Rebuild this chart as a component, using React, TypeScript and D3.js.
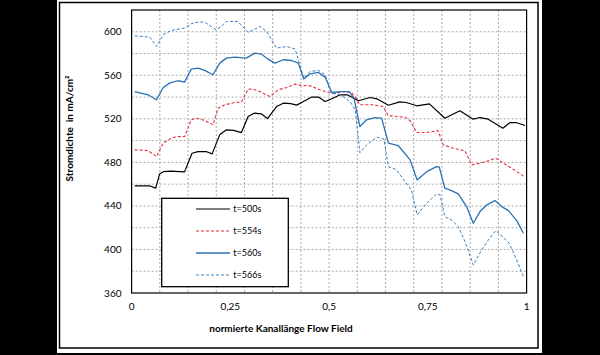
import React from "react";
import * as d3 from "d3";

const xs500 = [0.008,0.045,0.061,0.071,0.08,0.1,0.134,0.153,0.168,0.19,0.204,0.223,0.24,0.258,0.278,0.295,0.31,0.328,0.344,0.367,0.384,0.403,0.418,0.435,0.456,0.473,0.49,0.507,0.528,0.546,0.574,0.604,0.621,0.65,0.679,0.695,0.722,0.754,0.793,0.831,0.865,0.882,0.903,0.94,0.958,0.973,0.996];
const ys500 = [458.5,458.5,456.4,469.4,471.5,471.9,471.3,488.4,489.9,489.8,487.8,505.3,509.9,509.4,507.4,522.1,525.2,524.6,520.3,531.3,534.4,534,532.6,535.9,540,540,535.9,538.4,542.1,542.1,536.6,539.6,538.4,532.5,535.6,535,532,533.8,520.6,527.4,519.7,521.2,519.7,511.4,516.6,516.6,513.9];

const xs554 = [0.008,0.042,0.063,0.08,0.1,0.117,0.134,0.151,0.164,0.185,0.206,0.219,0.236,0.26,0.278,0.295,0.31,0.325,0.35,0.371,0.393,0.414,0.431,0.452,0.477,0.498,0.51,0.536,0.557,0.571,0.578,0.612,0.637,0.65,0.692,0.705,0.722,0.747,0.776,0.789,0.814,0.844,0.861,0.882,0.903,0.922,0.941,0.962,0.996];
const ys554 = [491.5,490.9,485.3,497.6,502.2,503.7,503.7,519.1,520.6,518.5,514.5,529.8,532.9,535,535.4,547.3,547,545,540.5,546.7,548.8,551.9,550.6,550.3,546.7,544.2,543,545.1,544.2,537.5,532.9,532.9,531.3,522.8,521.6,518.4,507.4,507.4,509.2,496.1,493,490.6,477.7,479.3,481.4,483.9,479.3,474.7,466.4];

const xs560 = [0.008,0.042,0.063,0.08,0.096,0.117,0.134,0.151,0.168,0.185,0.206,0.223,0.24,0.261,0.29,0.312,0.328,0.345,0.363,0.384,0.405,0.422,0.436,0.452,0.473,0.49,0.507,0.528,0.551,0.563,0.578,0.595,0.616,0.633,0.65,0.675,0.705,0.723,0.747,0.772,0.779,0.793,0.81,0.827,0.848,0.865,0.882,0.899,0.92,0.937,0.954,0.975,0.992];
const ys560 = [545.1,542.1,537.5,548.8,552.8,555,553.7,565.7,566.6,564.5,560.5,571.2,575.8,576.7,575.8,580.4,579.5,574.9,571.2,574.3,573.6,571.2,556.5,561.4,562.6,558.3,544.2,545.1,545.1,539,512.9,519.1,521.2,520.6,497.7,495.5,482.3,463.9,471.5,476.1,475.6,456.3,454.1,451,439.4,424.1,434.8,440.9,444.9,439.4,435.7,426.5,414.9];

const xs566 = [0.008,0.046,0.063,0.08,0.1,0.134,0.151,0.168,0.185,0.214,0.227,0.24,0.269,0.295,0.325,0.342,0.367,0.393,0.414,0.436,0.452,0.473,0.49,0.504,0.528,0.553,0.566,0.578,0.595,0.621,0.639,0.65,0.67,0.692,0.708,0.723,0.747,0.772,0.781,0.793,0.81,0.827,0.844,0.865,0.886,0.903,0.922,0.941,0.956,0.975,0.992];
const ys566 = [596.3,595.1,586.5,597.2,601.2,603.4,607.4,608.9,608.9,601.8,604.9,609.5,609.5,599.4,604.9,600.3,585,586.5,584.1,557.4,563.5,564.5,560.5,544.2,542.1,535.9,528.3,489,496.1,503.2,501.3,476.1,473.3,462.3,455,431.7,442.5,451,450.1,430.2,427.1,421,407.2,385.7,399.5,408.7,417.3,411.2,405.7,390.3,375];

const yTicks = [360, 400, 440, 480, 520, 560, 600];
const yGrid = [380, 400, 420, 440, 460, 480, 500, 520, 540, 560, 580, 600];
const xTicks = [0, 0.25, 0.5, 0.75, 1];
const xTickLabels = ["0", "0,25", "0,5", "0,75", "1"];
const xGridCount = 14;

const seriesNames = ["t=500s", "t=554s", "t=560s", "t=566s"];
const seriesX = [xs500, xs554, xs560, xs566];
const seriesY = [ys500, ys554, ys560, ys566];
const seriesColor = ["#000000", "#e2313f", "#2a72b5", "#3b7fc0"];
const seriesDash = [null, "3,2", null, "3,2"];
const seriesWidth = [1.2, 1.1, 1.3, 1.0];

const FONT = "Lato, 'Liberation Sans', sans-serif";

export default function App() {
  const W = 600, H = 355;
  const left = 131.6, right = 526.6, top = 10, bottom = 293;
  const x = d3.scaleLinear().domain([0, 1]).range([left, right]);
  const y = d3.scaleLinear().domain([360, 620]).range([bottom, top]);
  const line = d3.line<[number, number]>().x(d => x(d[0])).y(d => y(d[1]));
  const xGrid = d3.range(1, xGridCount).map(k => k / xGridCount);

  return (
    <svg width={W} height={H} style={{ position: "absolute", left: 0, top: 0 }} fontFamily={FONT}>
      <rect x={0} y={0} width={W} height={H} fill="#000" />
      <rect x={57} y={0} width={485} height={353} fill="#fff" />
      <rect x={59.5} y={2.5} width={478.5} height={345.5} fill="none" stroke="#000" strokeWidth={1.5} />
      {yGrid.map(v => (
        <line key={"gy" + v} x1={left} x2={right} y1={y(v)} y2={y(v)} stroke="#a0a0a0" strokeWidth={0.9} strokeDasharray="2,2" />
      ))}
      {xGrid.map(v => (
        <line key={"gx" + v} x1={x(v)} x2={x(v)} y1={top} y2={bottom} stroke="#a0a0a0" strokeWidth={0.9} strokeDasharray="2,2" />
      ))}
      <rect x={left} y={top} width={right - left} height={bottom - top} fill="none" stroke="#000" strokeWidth={1.2} />
      {seriesX.map((xs, i) => (
        <path key={"s" + i} d={line(xs.map((xv, j) => [xv, seriesY[i][j]]) as [number, number][]) || ""}
          fill="none" stroke={seriesColor[i]} strokeWidth={seriesWidth[i]}
          strokeDasharray={seriesDash[i] || undefined} strokeLinejoin="round" />
      ))}
      {yTicks.map(v => (
        <text key={"yt" + v} x={121.5} y={y(v)} dy="0.35em" textAnchor="end" fontSize={10} fill="#000">{v}</text>
      ))}
      {xTicks.map((v, i) => (
        <text key={"xt" + v} x={x(v)} y={306} dy="0.35em" textAnchor="middle" fontSize={10} fill="#000">{xTickLabels[i]}</text>
      ))}
      <text x={281} y={328} dy="0.35em" textAnchor="middle" fontSize={10} fontWeight="bold" fill="#000">normierte Kanallänge Flow Field</text>
      <text transform={`translate(69,128.5) rotate(-90)`} dy="0.35em" textAnchor="middle" fontSize={10} fontWeight="bold" fill="#000" style={{ whiteSpace: "pre" }}>Stromdichte  in mA/cm²</text>
      <rect x={161.7} y={198.3} width={126.6} height={88.4} fill="#fff" stroke="#000" strokeWidth={1.3} />
      {seriesNames.map((n, i) => {
        const ry = 209 + i * 22;
        return (
          <g key={"lg" + i}>
            <line x1={196} x2={230} y1={ry} y2={ry} stroke={seriesColor[i]} strokeWidth={seriesWidth[i]} strokeDasharray={seriesDash[i] || undefined} />
            <text x={233.3} y={ry} dy="0.35em" fontSize={9} fill="#000">{n}</text>
          </g>
        );
      })}
    </svg>
  );
}
